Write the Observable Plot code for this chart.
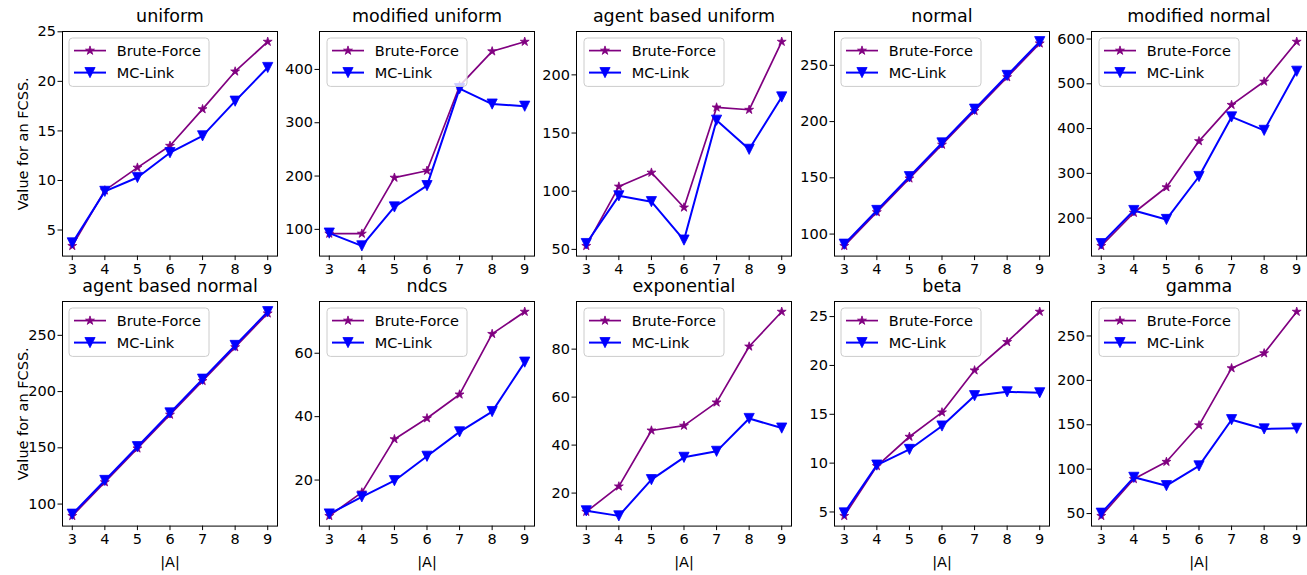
<!DOCTYPE html>
<html><head><meta charset="utf-8">
<script src="https://cdn.jsdelivr.net/npm/d3@7"></script>
<script src="https://cdn.jsdelivr.net/npm/@observablehq/plot@0.6"></script>
<style>
body{margin:0;background:#fff;font-family:"DejaVu Sans",sans-serif;}
#chart{position:relative;width:1307px;height:575px;overflow:hidden;background:#fff;}
.panel{position:absolute;}
.legend{position:absolute;}
</style></head>
<body><div id="chart"></div>
<script>
// ---- data ----
const sizes = [3, 4, 5, 6, 7, 8, 9];
const titles = ["uniform", "modified uniform", "agent based uniform", "normal", "modified normal",
                "agent based normal", "ndcs", "exponential", "beta", "gamma"];
const seriesNames = ["Brute-Force", "MC-Link"];
const xLabel = "|A|";
const yLabel = "Value for an FCSS.";

const bfUniform = [3.4, 9.0, 11.3, 13.5, 17.2, 21.0, 24.0];
const mcUniform = [3.7, 8.9, 10.3, 12.8, 14.5, 18.0, 21.4];
const bfModUniform = [92, 92, 197, 210, 369, 434, 452];
const mcModUniform = [93, 69, 142, 182, 364, 335, 331];
const bfAgentUniform = [53, 104, 116, 86, 172, 170, 228.5];
const mcAgentUniform = [55, 96, 91, 58, 161, 136, 181];
const bfNormal = [89.5, 119.5, 149.5, 179.5, 209.5, 239.5, 269.5];
const mcNormal = [91, 121, 151, 181, 211, 241, 271];
const bfModNormal = [138, 212, 269, 372, 453, 505, 594];
const mcModNormal = [143, 217, 197, 293, 426, 396, 528];
const bfAgentNormal = [89.5, 119.5, 149.5, 179.5, 209.5, 239.5, 269.5];
const mcAgentNormal = [91, 121, 151, 181, 211, 241, 271];
const bfNdcs = [8.7, 16.1, 32.9, 39.5, 47.0, 66.1, 73.1];
const mcNdcs = [9.3, 14.7, 19.8, 27.5, 35.2, 41.6, 57.2];
const bfExponential = [12.2, 22.8, 46.1, 48.1, 57.8, 81.1, 95.6];
const mcExponential = [12.6, 10.5, 25.6, 34.9, 37.4, 51.1, 47.1];
const bfBeta = [4.6, 9.7, 12.7, 15.2, 19.5, 22.4, 25.5];
const mcBeta = [4.9, 9.8, 11.4, 13.8, 16.9, 17.3, 17.2];
const bfGamma = [47.4, 88.9, 108.3, 149.4, 213.7, 230.5, 277.3];
const mcGamma = [50.4, 90.8, 81.4, 103.7, 155.7, 145.3, 146];

const yTicks = [
  [5, 10, 15, 20, 25], [100, 200, 300, 400], [50, 100, 150, 200], [100, 150, 200, 250], [200, 300, 400, 500, 600],
  [100, 150, 200, 250], [20, 40, 60], [20, 40, 60, 80], [5, 10, 15, 20, 25], [50, 100, 150, 200, 250]
];
const bfSeries = [bfUniform, bfModUniform, bfAgentUniform, bfNormal, bfModNormal, bfAgentNormal, bfNdcs, bfExponential, bfBeta, bfGamma];
const mcSeries = [mcUniform, mcModUniform, mcAgentUniform, mcNormal, mcModNormal, mcAgentNormal, mcNdcs, mcExponential, mcBeta, mcGamma];

// ---- layout ----
const colLeft = [61.5, 318.8, 576.2, 833.6, 1091];
const rowTop = [31, 300.7];
const boxW = 215, boxH = 224.6;
const mL = 60, mR = 12, mT = 36, mB = 52;
const BF_COLOR = "purple", MC_COLOR = "blue";

const triDown = {
  draw(ctx, size) {
    const s = Math.sqrt(size / Math.PI);
    ctx.moveTo(-s, -s); ctx.lineTo(s, -s); ctx.lineTo(0, s); ctx.closePath();
  }
};

const chart = document.getElementById("chart");

function mplDomain(vals) {
  const lo = d3.min(vals), hi = d3.max(vals), m = 0.05 * (hi - lo);
  return [lo - m, hi + m];
}

titles.forEach((title, k) => {
  const row = Math.floor(k / 5), col = k % 5;
  const bf = bfSeries[k], mc = mcSeries[k];
  const table = sizes.map((s, i) => ({size: s, bf: bf[i], mc: mc[i]}));
  const plot = Plot.plot({
    width: boxW + mL + mR,
    height: boxH + mT + mB,
    marginLeft: mL, marginRight: mR, marginTop: mT, marginBottom: mB,
    style: {fontFamily: "DejaVu Sans", fontSize: "14.5px", color: "#000", background: "none", overflow: "visible"},
    x: {domain: [2.7, 9.3], ticks: sizes, tickFormat: "d", tickSize: 4.5, tickPadding: 3,
        label: row === 1 ? xLabel : null, labelAnchor: "center", labelOffset: 41, labelArrow: false},
    y: {domain: mplDomain(bf.concat(mc)), ticks: yTicks[k], tickSize: 4.5, tickPadding: 2,
        label: col === 0 ? yLabel : null, labelAnchor: "center", labelOffset: 45, labelArrow: false},
    marks: [
      Plot.line(table, {x: "size", y: "bf", stroke: BF_COLOR, strokeWidth: 1.7}),
      Plot.dot(table, {x: "size", y: "bf", symbol: "star", r: 2.8, fill: BF_COLOR, stroke: BF_COLOR, strokeWidth: 0.8}),
      Plot.line(table, {x: "size", y: "mc", stroke: MC_COLOR, strokeWidth: 2}),
      Plot.dot(table, {x: "size", y: "mc", symbol: triDown, r: 5.1, fill: MC_COLOR, stroke: MC_COLOR, strokeWidth: 0.8}),
      Plot.frame({stroke: "#000", strokeWidth: 1}),
      Plot.text([title], {text: d => d, frameAnchor: "top", dy: -9, lineAnchor: "bottom", fontSize: 17.5})
    ]
  });
  plot.classList.add("panel");
  plot.style.left = (colLeft[col] - mL) + "px";
  plot.style.top = (rowTop[row] - mT) + "px";
  chart.appendChild(plot);

  // legend
  const lw = 140, lh = 48.4;
  const lg = d3.create("svg").attr("class", "legend").attr("width", lw + 2).attr("height", lh + 2)
    .style("left", (colLeft[col] + 7.7 - 1) + "px").style("top", (rowTop[row] + 7.3 - 1) + "px")
    .style("overflow", "visible");
  lg.append("rect").attr("x", 1).attr("y", 1).attr("width", lw).attr("height", lh).attr("rx", 3.5)
    .attr("fill", "rgba(255,255,255,0.8)").attr("stroke", "#cccccc").attr("stroke-width", 1);
  const entries = [
    {name: seriesNames[0], color: BF_COLOR, sym: d3.symbolStar, r: 2.8, w: 1.7},
    {name: seriesNames[1], color: MC_COLOR, sym: triDown, r: 5.1, w: 2}
  ];
  entries.forEach((e, i) => {
    const cy = 1 + 12.6 + i * 22;
    lg.append("line").attr("x1", 6).attr("x2", 38).attr("y1", cy).attr("y2", cy)
      .attr("stroke", e.color).attr("stroke-width", e.w);
    lg.append("path").attr("d", d3.symbol(e.sym, Math.PI * e.r * e.r)())
      .attr("transform", `translate(22,${cy})`).attr("fill", e.color).attr("stroke", e.color).attr("stroke-width", 0.8);
    lg.append("text").attr("x", 48.7).attr("y", cy).attr("dy", "0.35em")
      .attr("font-family", "DejaVu Sans").attr("font-size", 14.5).attr("fill", "#000").text(e.name);
  });
  chart.appendChild(lg.node());
});
</script>
</body></html>
